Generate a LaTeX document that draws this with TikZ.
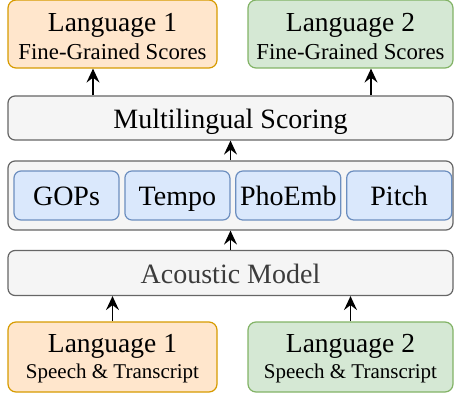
\documentclass[tikz,border=0pt]{standalone}
\usepackage{fontspec}
\setmainfont{Liberation Serif}
\usetikzlibrary{arrows.meta,chains,positioning}

\definecolor{orfill}{HTML}{FFE6CC}
\definecolor{ordraw}{HTML}{D79B00}
\definecolor{grfill}{HTML}{D5E8D4}
\definecolor{grdraw}{HTML}{82B366}
\definecolor{blfill}{HTML}{DAE8FC}
\definecolor{bldraw}{HTML}{6C8EBF}
\definecolor{gyfill}{HTML}{F5F5F5}
\definecolor{gydraw}{HTML}{666666}
\definecolor{gytext}{HTML}{3C3C3C}

\tikzset{
  langbox/.style={rounded corners=8pt,line width=1.2pt,minimum width=209pt,
    minimum height=70pt,align=center,inner sep=0pt,
    font=\fontsize{27.5}{28}\selectfont},
  lang1/.style={langbox,draw=ordraw,fill=orfill},
  lang2/.style={langbox,draw=grdraw,fill=grfill},
  greybox/.style={draw=gydraw,fill=gyfill,rounded corners=7pt,line width=1.2pt,
    minimum width=445pt,inner sep=0pt,text height=20.5pt,text depth=0pt,
    font=\fontsize{28}{28}\selectfont},
  featbox/.style={draw=bldraw,fill=blfill,rounded corners=7pt,line width=1.2pt,
    minimum width=105pt,minimum height=49pt,inner sep=0pt,
    text height=19pt,text depth=0pt,font=\fontsize{28}{28}\selectfont},
  arr/.style={-{Stealth[length=14pt,width=13pt,inset=5pt]},line width=1.4pt}
}
% first line with a top strut, second line smaller with a bottom strut
\newcommand{\topline}[2]{\rule{0pt}{#1pt}#2}
\newcommand{\subline}[3]{{\fontsize{#1}{28}\selectfont #3\rule[-#2pt]{0pt}{#2pt}}}

\begin{document}
\begin{tikzpicture}[x=1pt,y=-1pt]
\useasboundingbox (0,0) rectangle (454,398);

% outputs
\node [lang1,minimum width=209pt,minimum height=68pt] (out1) at (112.5,34)
  {\topline{25}{Language 1}\\[0.3pt] \subline{22.8}{1.3}{Fine-Grained Scores}};
\node [lang2,minimum width=205pt,minimum height=68pt] (out2) at (350.5,34)
  {\topline{25}{Language 2}\\[0.3pt] \subline{22.8}{1.3}{Fine-Grained Scores}};

% scoring
\node [greybox,minimum height=44pt] (score) at (230.5,118) {Multilingual Scoring};

% features
\node [greybox,minimum height=69pt] (feats) at (230.5,195.5) {};
\begin{scope}[start chain=going right,node distance=4.7pt]
\node [featbox,on chain] (f1) at (66.5,195.5) {GOPs};
\foreach \i / \feat in {2/Tempo,3/PhoEmb,4/Pitch}
  \node [featbox,on chain] (f\i) {\feat};
\end{scope}

% acoustic model
\node [greybox,minimum height=45pt,text=gytext] (am) at (230.5,273) {Acoustic Model};

% inputs
\node [lang1,minimum width=209pt] (in1) at (112.5,357)
  {\topline{22}{Language 1}\\[-2pt] \subline{21}{2}{Speech \& Transcript}};
\node [lang2,minimum width=205pt] (in2) at (350.5,357)
  {\topline{22}{Language 2}\\[-2pt] \subline{21}{2}{Speech \& Transcript}};

\draw [arr] (in1.north) -- (in1.north |- am.south);
\draw [arr] (in2.north) -- (in2.north |- am.south);
\draw [arr] (am.north) -- (feats.south);
\draw [arr] (feats.north) -- (score.south);
\draw [arr] ([xshift=-19.5pt]out1.south |- score.north) -- ([xshift=-19.5pt]out1.south);
\draw [arr] ([xshift=20.5pt]out2.south |- score.north) -- ([xshift=20.5pt]out2.south);

\end{tikzpicture}
\end{document}
